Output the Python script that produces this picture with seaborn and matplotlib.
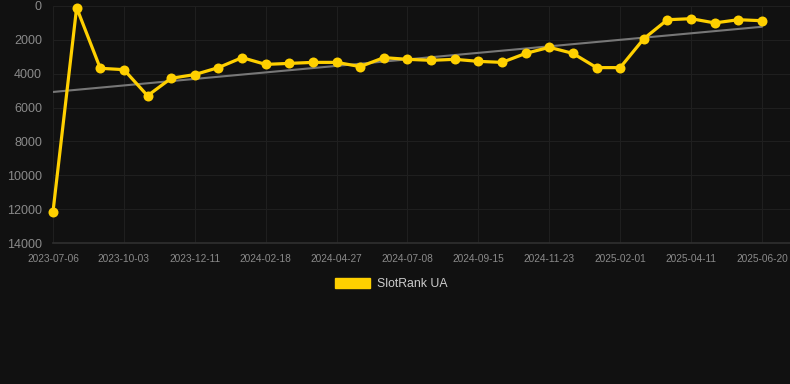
import numpy as np
import pandas as pd
import seaborn as sns
import matplotlib.pyplot as plt
from matplotlib.patches import Patch

# rank values, one per snapshot (every 3rd one carries a date label)
ranks = [12150, 100, 3680, 3760, 5300, 4270, 4050, 3640, 3050, 3450,
         3390, 3330, 3330, 3580, 3050, 3150, 3210, 3150, 3270, 3330,
         2800, 2440, 2800, 3640, 3640, 1930, 810, 750, 1000, 810, 870]
tick_labels = ["2023-07-06", "2023-10-03", "2023-12-11", "2024-02-18",
               "2024-04-27", "2024-07-08", "2024-09-15", "2024-11-23",
               "2025-02-01", "2025-04-11", "2025-06-20"]
y_ticks = [0, 2000, 4000, 6000, 8000, 10000, 12000, 14000]
series_name = "SlotRank UA"

bg = "#111111"
gold = "#FFD000"

df = pd.DataFrame({"idx": np.arange(len(ranks)), "rank": ranks})

sns.set_theme(style="dark")
plt.rcParams['font.family'] = ['Liberation Sans', 'DejaVu Sans']

fig = plt.figure(figsize=(7.9, 3.84), dpi=100, facecolor=bg)
ax = fig.add_axes([53 / 790, 1 - 243 / 384, (790 - 53) / 790, 237 / 384])
ax.set_facecolor(bg)

# linear trend
coef = np.polyfit(df["idx"], df["rank"], 1)
trend = np.polyval(coef, df["idx"])
ax.plot(df["idx"], trend, color="#777777", lw=1.5, zorder=2)

sns.lineplot(data=df, x="idx", y="rank", ax=ax, color=gold, lw=2.3,
             marker="o", markersize=7.2, markeredgewidth=0, zorder=3, clip_on=False)

ax.set_ylim(14000, 0)
ax.set_xlim(0, 30 + 28 / 23.63)
ax.set_yticks(y_ticks)
ax.set_yticklabels([str(v) for v in y_ticks], color="#8a8a8a", fontsize=9)
ax.set_xticks(np.arange(0, len(ranks), 3))
ax.set_xticklabels(tick_labels, color="#8a8a8a", fontsize=7.3)
ax.tick_params(axis="y", length=0, pad=8)
ax.tick_params(axis="x", length=4, width=0.8, color="#333333", pad=4)
ax.grid(True, color="#1f1f1f", lw=0.8)
ax.set_xlabel("")
ax.set_ylabel("")
for s in ["top", "right", "left"]:
    ax.spines[s].set_visible(False)
ax.spines["bottom"].set_color("#2e2e2e")

fig.legend(handles=[Patch(facecolor=gold, edgecolor=gold, label=series_name)],
           loc="center", bbox_to_anchor=(391 / 790, 1 - 284 / 384), frameon=False,
           handlelength=2.9, handleheight=0.9, fontsize=8.8, labelcolor="#cccccc",
           handletextpad=0.55)

fig.savefig("out.png", dpi=100, facecolor=bg)
